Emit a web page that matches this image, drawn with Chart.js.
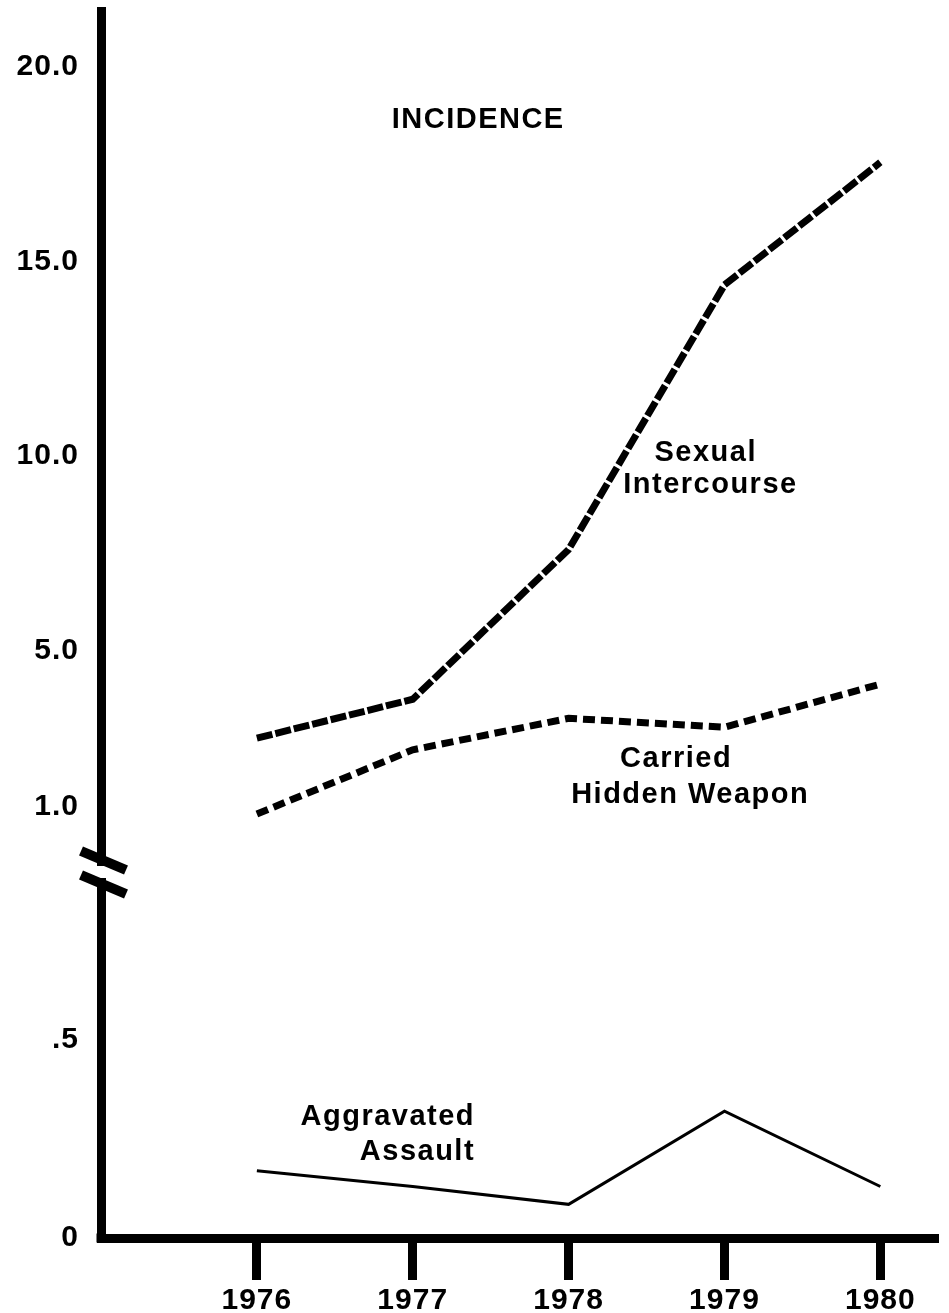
<!DOCTYPE html>
<html>
<head>
<meta charset="utf-8">
<script src="https://cdn.jsdelivr.net/npm/chart.js@4.4.1/dist/chart.umd.min.js"></script>
<style>
  html, body { margin: 0; padding: 0; background: #fff; }
  #wrap { width: 949px; height: 1313px; }
</style>
</head>
<body>
<div id="wrap"><canvas id="chart" width="949" height="1313"></canvas></div>
<script>
// values
var years = [1976, 1977, 1978, 1979, 1980];
var sexualIntercourse = [2.75, 3.75, 7.6, 14.4, 17.55];
var carriedHiddenWeapon = [0.8, 2.45, 3.26, 3.03, 4.14];
var aggravatedAssault = [0.17, 0.13, 0.085, 0.32, 0.13];

var upperTicks = [1, 5, 10, 15, 20];
var lowerTicks = [0, 0.5];

// text placed on the chart, in data units
var notes = [
  { text: 'INCIDENCE', x: 1977.42, y: 18.43, axis: 'yHigh', align: 'center' },
  { text: 'Sexual', x: 1978.88, y: 9.87, axis: 'yHigh', align: 'center' },
  { text: 'Intercourse', x: 1978.91, y: 9.05, axis: 'yHigh', align: 'center' },
  { text: 'Carried', x: 1978.69, y: 2.0, axis: 'yHigh', align: 'center' },
  { text: 'Hidden Weapon', x: 1978.78, y: 1.08, axis: 'yHigh', align: 'center' },
  { text: 'Aggravated', x: 1977.4, y: 0.285, axis: 'yLow', align: 'right' },
  { text: 'Assault', x: 1977.4, y: 0.197, axis: 'yLow', align: 'right' }
];

function points(vals) {
  return years.map(function (yr, i) { return { x: yr, y: vals[i] }; });
}

var INK = '#000';
var FONT = "'Liberation Sans', Arial, Helvetica, sans-serif";

var spacing = {
  id: 'spacing',
  beforeDraw: function (chart) { chart.ctx.letterSpacing = '1px'; },
  beforeUpdate: function (chart) { chart.ctx.letterSpacing = '1px'; }
};

var decorations = {
  id: 'decorations',
  afterDraw: function (chart) {
    var ctx = chart.ctx;
    var xs = chart.scales.x;
    var hi = chart.scales.yHigh;
    var lo = chart.scales.yLow;
    var area = chart.chartArea;
    ctx.save();
    // square the corner of the two axes
    ctx.fillStyle = INK;
    ctx.fillRect(area.left - 4.5, area.bottom - 4.5, 9, 9);

    // scale break between the two y ranges
    var by = Math.min(hi.bottom, lo.top);
    var ax = area.left;
    ctx.fillStyle = '#fff';
    ctx.fillRect(ax - 8, by - 6, 16, 12);
    ctx.strokeStyle = INK;
    ctx.lineWidth = 10;
    ctx.lineCap = 'butt';
    [-11, 13].forEach(function (dy) {
      ctx.beginPath();
      ctx.moveTo(ax - 20, by + dy - 10);
      ctx.lineTo(ax + 25, by + dy + 9);
      ctx.stroke();
    });

    // annotations
    ctx.fillStyle = INK;
    ctx.font = 'bold 29px ' + FONT;
    ctx.letterSpacing = '1.5px';
    ctx.textBaseline = 'alphabetic';
    notes.forEach(function (n) {
      var ys = chart.scales[n.axis];
      ctx.textAlign = n.align;
      ctx.fillText(n.text, xs.getPixelForValue(n.x), ys.getPixelForValue(n.y));
    });
    ctx.restore();
  }
};

function noPad(s) {
  s.paddingTop = 0;
  s.paddingBottom = 0;
  s.paddingLeft = 0;
  s.paddingRight = 0;
}

new Chart(document.getElementById('chart'), {
  type: 'line',
  data: {
    datasets: [{
      label: 'Sexual Intercourse',
      data: points(sexualIntercourse),
      yAxisID: 'yHigh',
      borderColor: INK,
      borderWidth: 7,
      borderDash: [16, 3],
      pointRadius: 0,
      tension: 0
    }, {
      label: 'Carried Hidden Weapon',
      data: points(carriedHiddenWeapon),
      yAxisID: 'yHigh',
      borderColor: INK,
      borderWidth: 7,
      borderDash: [12, 6],
      pointRadius: 0,
      tension: 0
    }, {
      label: 'Aggravated Assault',
      data: points(aggravatedAssault),
      yAxisID: 'yLow',
      borderColor: INK,
      borderWidth: 3,
      pointRadius: 0,
      tension: 0
    }]
  },
  options: {
    responsive: false,
    animation: false,
    events: [],
    layout: { padding: { top: 11, right: 11, left: 0, bottom: 0 } },
    plugins: {
      legend: { display: false },
      title: { display: false },
      tooltip: { enabled: false }
    },
    scales: {
      x: {
        type: 'linear',
        min: 1975,
        max: 1980.37,
        afterBuildTicks: function (s) { s.ticks = years.map(function (v) { return { value: v }; }); },
        afterFit: function (s) { s.height = 75; noPad(s); },
        border: { display: true, color: INK, width: 9 },
        grid: {
          drawOnChartArea: false,
          drawTicks: true,
          tickLength: 42,
          tickWidth: 9,
          tickColor: INK
        },
        ticks: {
          color: INK,
          padding: 3,
          maxRotation: 0,
          font: { family: FONT, size: 30, weight: 'bold' },
          callback: function (v) { return String(v); }
        }
      },
      yHigh: {
        type: 'linear',
        position: 'left',
        stack: 'y',
        stackWeight: 861,
        weight: 1,
        min: -0.69,
        max: 21.44,
        afterBuildTicks: function (s) { s.ticks = upperTicks.map(function (v) { return { value: v }; }); },
        afterFit: function (s) { s.width = 101; noPad(s); },
        border: { display: true, color: INK, width: 9 },
        grid: { drawOnChartArea: false, drawTicks: false },
        ticks: {
          color: INK,
          padding: 22,
          font: { family: FONT, size: 30, weight: 'bold' },
          callback: function (v) { return v.toFixed(1); }
        }
      },
      yLow: {
        type: 'linear',
        position: 'left',
        stack: 'y',
        stackWeight: 366,
        weight: 0,
        min: 0,
        max: 0.924,
        afterBuildTicks: function (s) { s.ticks = lowerTicks.map(function (v) { return { value: v }; }); },
        afterFit: function (s) { s.width = 101; noPad(s); },
        border: { display: true, color: INK, width: 9 },
        grid: { drawOnChartArea: false, drawTicks: false },
        ticks: {
          color: INK,
          padding: 22,
          font: { family: FONT, size: 30, weight: 'bold' },
          callback: function (v) { return v === 0 ? '0' : '.5'; }
        }
      }
    }
  },
  plugins: [spacing, decorations]
});
</script>
</body>
</html>
